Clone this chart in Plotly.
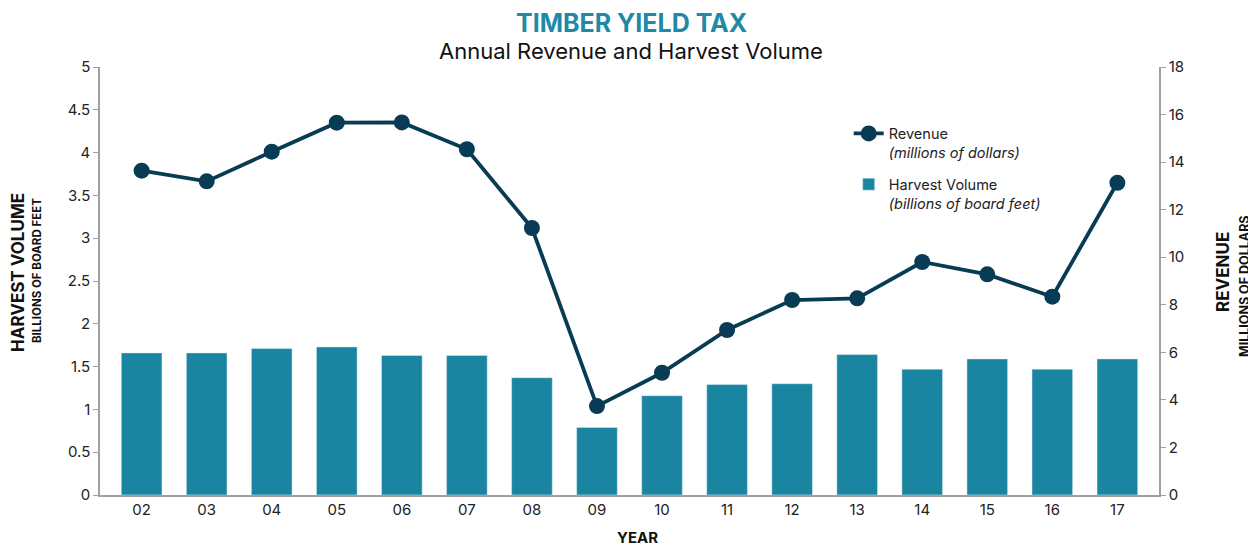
import plotly.graph_objects as go

years = ["02", "03", "04", "05", "06", "07", "08", "09", "10", "11", "12", "13", "14", "15", "16", "17"]
harvest_volume = [1.66, 1.66, 1.71, 1.73, 1.63, 1.63, 1.37, 0.79, 1.16, 1.29, 1.30, 1.64, 1.47, 1.59, 1.47, 1.59]
revenue = [13.64, 13.19, 14.44, 15.66, 15.67, 14.54, 11.23, 3.74, 5.14, 6.94, 8.20, 8.27, 9.80, 9.28, 8.34, 13.13]

FONT = "Inter"
TEAL = "#1a85a0"
NAVY = "#083c54"
AXIS = "#a0a0a0"

fig = go.Figure()
fig.add_trace(go.Bar(
    x=years, y=harvest_volume, name="Harvest Volume<br><i>(billions of board feet)</i>",
    marker_color=TEAL, legendrank=2, legendgroup="b", yaxis="y"))
fig.add_trace(go.Scatter(
    x=years, y=revenue, name="Revenue<br><i>(millions of dollars)</i>",
    mode="lines+markers", line=dict(color=NAVY, width=3.8),
    marker=dict(color=NAVY, size=16), legendrank=1, legendgroup="a", yaxis="y2"))

# page has an 8px body margin, so the figure is drawn 8px smaller on the top/left
fig.update_layout(
    width=1248, height=538,
    margin=dict(l=92, r=97, t=59, b=51),
    plot_bgcolor="white", paper_bgcolor="white",
    font=dict(family=FONT, size=15, color="#222"),
    bargap=0.375,
    showlegend=True,
    legend=dict(x=0.707, y=0.882, xanchor="left", yanchor="top",
                valign="top", font=dict(size=14.5, color="#222"),
                traceorder="grouped", tracegroupgap=10, bgcolor="rgba(0,0,0,0)"),
    xaxis=dict(type="category", range=[-0.64, 15.64], showline=True, linecolor=AXIS,
               linewidth=2, ticks="", showgrid=False, tickfont=dict(size=15)),
    yaxis=dict(range=[0, 5], dtick=0.5, showline=True, linecolor=AXIS, linewidth=1.5,
               ticks="outside", tickcolor=AXIS, ticklen=5, showgrid=False, zeroline=False,
               tickfont=dict(size=15)),
    yaxis2=dict(range=[0, 18], dtick=2, overlaying="y", side="right", showline=True,
                linecolor=AXIS, linewidth=1.5, ticks="outside", tickcolor=AXIS, ticklen=5,
                showgrid=False, zeroline=False, tickfont=dict(size=15)),
)

ann = [
    dict(text="<b>TIMBER YIELD TAX</b>", y=23, font=dict(size=25, color="#2089a5")),
    dict(text="Annual Revenue and Harvest Volume", y=51, font=dict(size=22, color="#111")),
]
for a in ann:
    fig.add_annotation(text=a["text"], xref="paper", yref="paper", x=(631 - 100) / 1059,
                       y=(495 - a["y"]) / 428, showarrow=False, font=dict(family=FONT, **a["font"]),
                       xanchor="center", yanchor="middle")

side_titles = [
    ("<b>HARVEST VOLUME</b>", 18, 273, 17),
    ("<b>BILLIONS OF BOARD FEET</b>", 37, 271, 11.5),
    ("<b>REVENUE</b>", 1223, 272, 17),
    ("<b>MILLIONS OF DOLLARS</b>", 1244, 286, 12.5),
]
for text, px_, py_, size in side_titles:
    fig.add_annotation(text=text, xref="paper", yref="paper", x=(px_ - 100) / 1059,
                       y=(495 - py_) / 428, textangle=-90, showarrow=False,
                       font=dict(family=FONT, size=size, color="#111"),
                       xanchor="center", yanchor="middle")

fig.add_annotation(text="<b>YEAR</b>", xref="paper", yref="paper", x=(637 - 100) / 1059,
                   y=(495 - 537) / 428, showarrow=False,
                   font=dict(family=FONT, size=15, color="#111"),
                   xanchor="center", yanchor="middle", borderpad=0)

fig.write_html("out.html")
